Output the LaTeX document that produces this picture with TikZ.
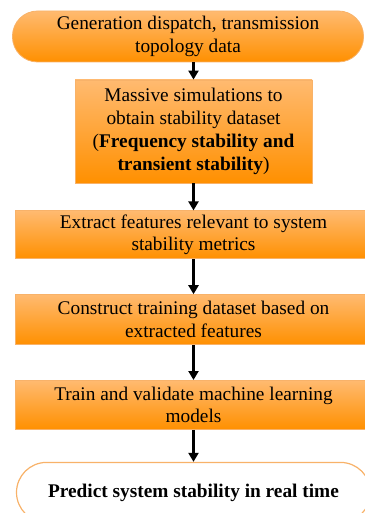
\documentclass[tikz,border=0pt]{standalone}
\usepackage{fontspec}
\setmainfont{Liberation Serif}
\usetikzlibrary{positioning, arrows.meta}
\definecolor{peach}{RGB}{255,186,112}
\definecolor{amber}{RGB}{255,144,0}
\definecolor{edgeorange}{RGB}{248,178,105}

\begin{document}
\begin{tikzpicture}[x=1bp, y=1bp,
    stepbox/.style={draw=edgeorange, line width=0.8bp, top color=peach, bottom color=amber,
                    align=center, text=black, inner sep=2bp,
                    font=\fontsize{19.4}{23}\selectfont},
    startbox/.style={stepbox, rounded corners=25bp},
    endbox/.style={draw=edgeorange, line width=1.2bp, fill=white, rounded corners=30bp,
                   align=center, text=black, font=\fontsize{19.4}{23}\selectfont\bfseries},
    flow/.style={-{Triangle[length=9bp, width=10bp]}, line width=2.2bp, draw=black}
  ]
  \useasboundingbox (0,0) rectangle (364,-513);
  % ---------------- boxes ----------------
  \node[startbox, minimum width=351bp, minimum height=51bp] (data) at (188,-36.5)
    {Generation dispatch, transmission\\topology data};
  \node[stepbox, minimum width=237bp, minimum height=103bp] (sim) at (193.5,-131.5)
    {Massive simulations to\\obtain stability dataset\\(\textbf{Frequency stability and}\\\textbf{transient stability})};
  \node[stepbox, minimum width=356bp, minimum height=48bp, below=27bp of sim] (feat)
    {Extract features relevant to system\\stability metrics};
  \node[stepbox, minimum width=356bp, minimum height=50bp, below=35bp of feat] (train)
    {Construct training dataset based on\\extracted features};
  \node[stepbox, minimum width=356bp, minimum height=49bp, below=35bp of train] (ml)
    {Train and validate machine learning\\models};
  \node[endbox, minimum width=354bp, minimum height=60bp, below=32bp of ml] (pred)
    {Predict system stability in real time};
  % ---------------- arrows ----------------
  \draw[flow] (data.south -| sim.north) -- (sim.north);
  \draw[flow] (sim) -- (feat);
  \draw[flow] (feat) -- (train);
  \draw[flow] (train) -- (ml);
  \draw[flow] (ml) -- (pred);
\end{tikzpicture}
\end{document}
